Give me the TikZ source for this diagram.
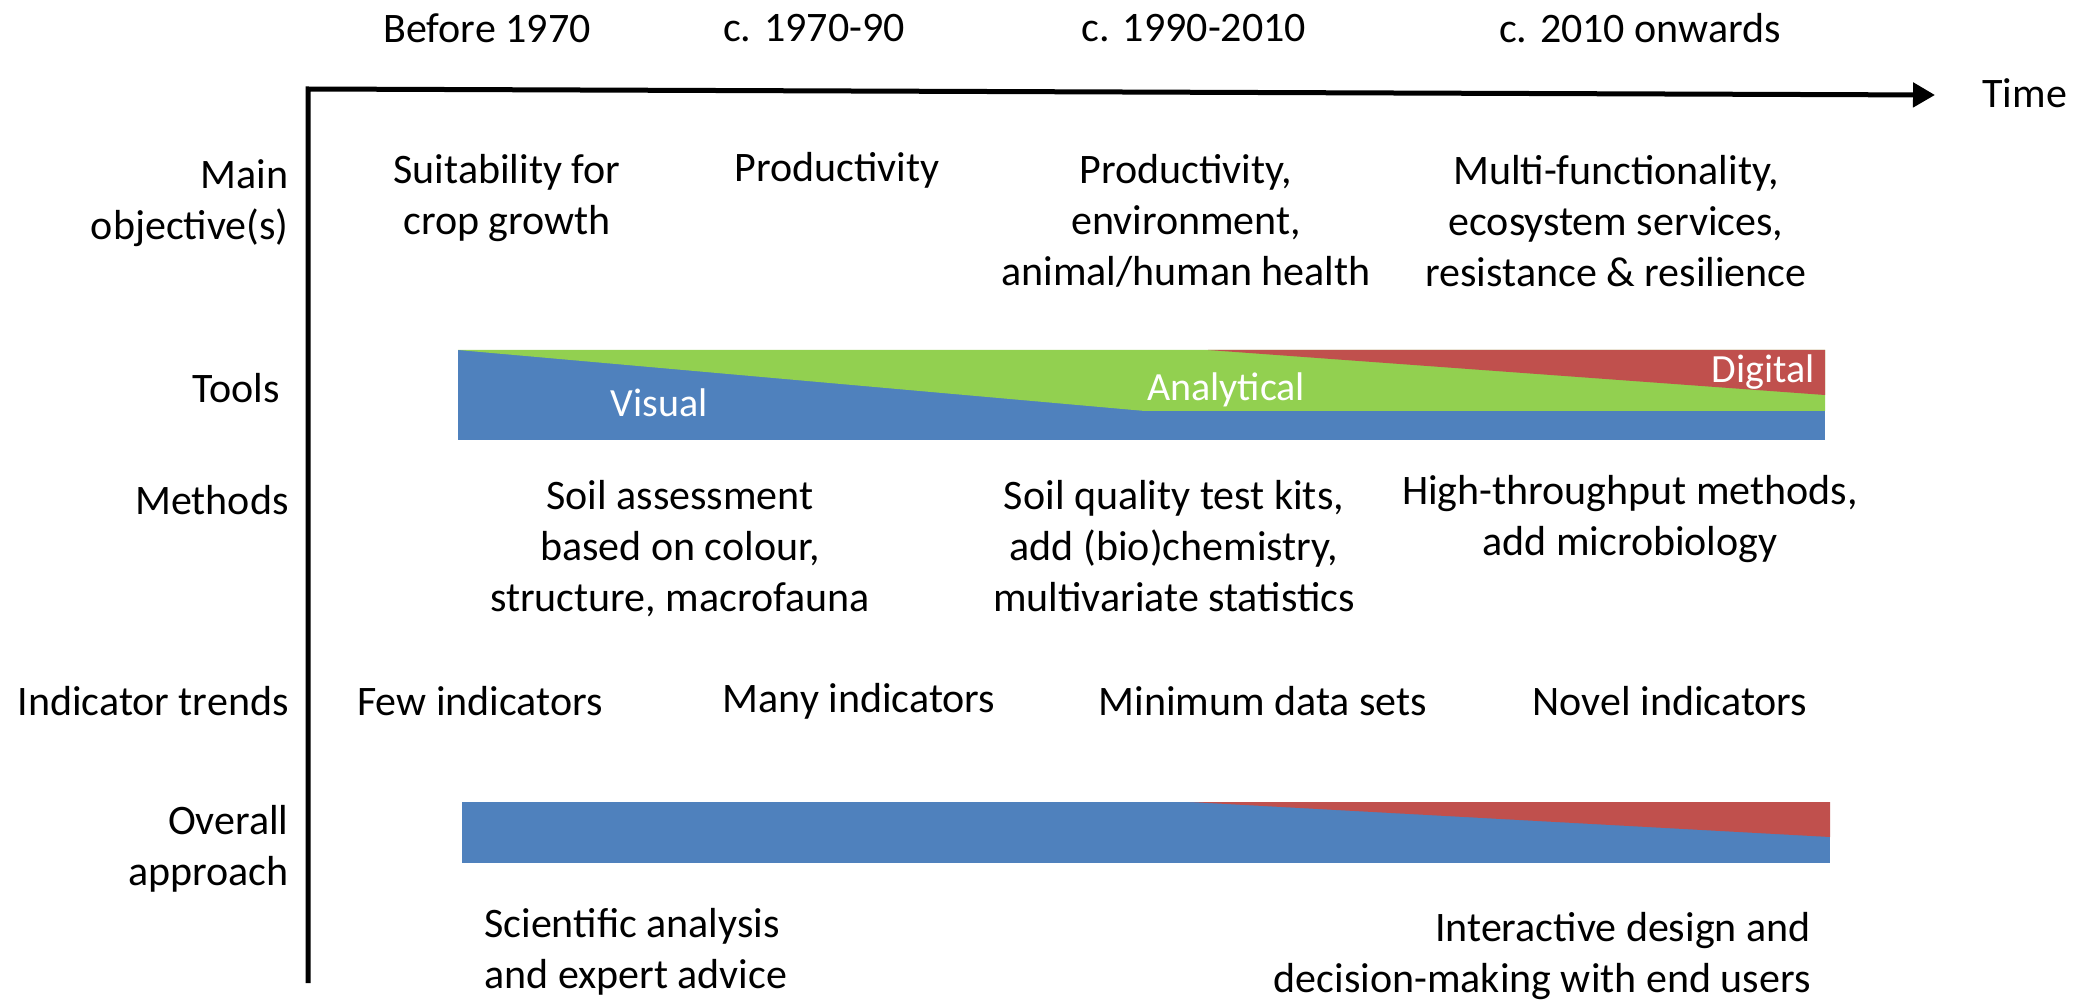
\documentclass[tikz,border=0pt]{standalone}
\usepackage{fontspec}
\setmainfont{Carlito}
\usetikzlibrary{arrows.meta,positioning}
\definecolor{toolblue}{RGB}{79,129,189}
\definecolor{toolgreen}{RGB}{146,208,80}
\definecolor{toolred}{RGB}{192,80,77}
\tikzset{lbl/.style={font=\fontsize{21}{25.5}\selectfont, inner sep=0pt, align=center},
  bandlbl/.style={font=\fontsize{20}{24}\selectfont, inner sep=0pt, text=white}}

\begin{document}
\begin{tikzpicture}[x=0.5pt,y=-0.5pt]
\useasboundingbox (0,0) rectangle (2085,1000);
\fill[toolblue] (458,350) rectangle (1825,440);
\fill[toolgreen] (458,350) -- (1825,350) -- (1825,411) -- (1145,411) -- cycle;
\fill[toolred] (1208,350) -- (1825,350) -- (1825,395) -- cycle;
\fill[toolblue] (462,802) rectangle (1830,863);
\fill[toolred] (1190,802) -- (1830,802) -- (1830,837) -- cycle;
\coordinate (o) at (308,89);
\coordinate (yend) at (308,983);
\coordinate (xend) at (1935,95);
\draw[line width=2.5pt, -{Triangle[length=11pt,width=12pt]}] (yend) -- (o) -- (xend);
\node[lbl] (t0) at (487,28) {Before 1970};
\node[lbl] (t1) at (814,28) {c. 1970-90};
\node[lbl] (t2) at (1194,28) {c. 1990-2010};
\node[lbl] (t3) at (1640,28) {c. 2010 onwards};
\node[lbl, anchor=west] (time) at (1982,93) {Time};
\node[lbl, anchor=east, align=right] (objective) at (289,203) {Main\\objective(s)};
\node[lbl] (tools) at (236,388) {Tools};
\node[lbl, anchor=east] (methods) at (289,500) {Methods};
\node[lbl, anchor=east] (trends) at (289,701) {Indicator trends};
\node[lbl, anchor=east, align=right] (approach) at (289,849) {Overall\\approach};
\node[lbl] (obj0) at (507,198) {Suitability for\\crop growth};
\node[lbl] (obj1) at (837,170) {Productivity};
\node[lbl] (obj2) at (1186,221) {Productivity,\\environment,\\animal/human health};
\node[lbl] (obj3) at (1616,221) {Multi-functionality,\\ecosystem services,\\resistance \& resilience};
\node[bandlbl] (visual) at (659,403) {Visual};
\node[bandlbl] (analytical) at (1226,390) {Analytical};
\node[bandlbl] (digital) at (1763,372) {Digital};
\node[lbl] (meth0) at (680,549) {Soil assessment\\based on colour,\\structure, macrofauna};
\node[lbl] (meth2) at (1174,546) {Soil quality test kits,\\add (bio)chemistry,\\multivariate statistics};
\node[lbl] (meth3) at (1630,519) {High-throughput methods,\\add microbiology};
\node[lbl] (ind0) at (480,701) {Few indicators};
\node[lbl] (ind1) at (859,701) {Many indicators};
\node[lbl] (ind2) at (1263,701) {Minimum data sets};
\node[lbl] (ind3) at (1670,701) {Novel indicators};
\node[lbl, anchor=west, align=left] (appr0) at (484,952) {Scientific analysis\\and expert advice};
\node[lbl, anchor=east, align=right] (appr1) at (1811,956) {Interactive design and\\decision-making with end users};
\end{tikzpicture}
\end{document}
